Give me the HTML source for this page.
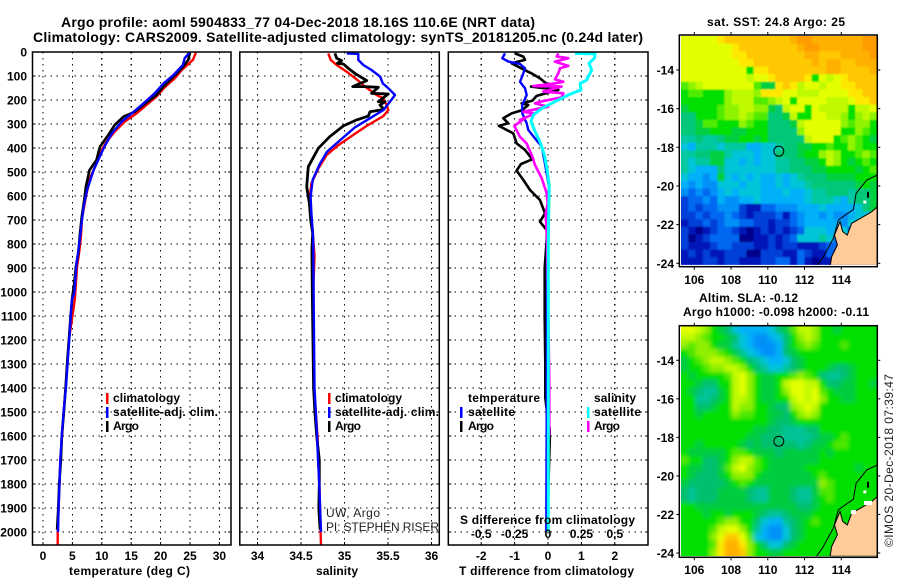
<!DOCTYPE html>
<html lang="en">
<head>
<meta charset="utf-8">
<title>Argo profile 5904833_77</title>
<style>
html,body{margin:0;padding:0;background:#fff;width:900px;height:580px;overflow:hidden}
svg{display:block}
text{font-family:"Liberation Sans",sans-serif;font-weight:bold;font-size:12px;fill:#000}
.t{font-size:14px}
.thin{font-weight:normal;fill:#222}
</style>
</head>
<body>
<svg id="chart" xmlns="http://www.w3.org/2000/svg" width="900" height="580" viewBox="0 0 900 580">
<rect x="0" y="0" width="900" height="580" fill="#fff"/>
<g id="layer"></g>
<text class="t" x="61" y="27" textLength="474" lengthAdjust="spacing">Argo profile: aoml 5904833_77 04-Dec-2018 18.16S 110.6E (NRT data)</text>
<text class="t" x="33" y="42" textLength="610" lengthAdjust="spacing">Climatology: CARS2009. Satellite-adjusted climatology: synTS_20181205.nc (0.24d later)</text>

<text x="69" y="575" textLength="121" lengthAdjust="spacing">temperature (deg C)</text>
<text x="316" y="575" textLength="42" lengthAdjust="spacing">salinity</text>
<text x="459" y="575" textLength="175" lengthAdjust="spacing">T difference from climatology</text>
<text x="460" y="524" textLength="175" lengthAdjust="spacing">S difference from climatology</text>

<g>
<rect x="106" y="393" width="2.5" height="11" fill="#ff0000"/>
<rect x="106" y="407" width="2.5" height="11" fill="#0000ff"/>
<rect x="106" y="421" width="2.5" height="11" fill="#000"/>
<text x="113" y="402" textLength="67" lengthAdjust="spacing">climatology</text>
<text x="113" y="416" textLength="105" lengthAdjust="spacing">satellite-adj. clim.</text>
<text x="113" y="430" textLength="26" lengthAdjust="spacing">Argo</text>
</g>
<g>
<rect x="328" y="393" width="2.5" height="11" fill="#ff0000"/>
<rect x="328" y="407" width="2.5" height="11" fill="#0000ff"/>
<rect x="328" y="421" width="2.5" height="11" fill="#000"/>
<text x="335" y="402" textLength="67" lengthAdjust="spacing">climatology</text>
<text x="335" y="416" textLength="104" lengthAdjust="spacing">satellite-adj. clim.</text>
<text x="335" y="430" textLength="26" lengthAdjust="spacing">Argo</text>
<text class="thin" x="326" y="517" textLength="54" lengthAdjust="spacing">UW, Argo</text>
<text class="thin" x="326" y="531" textLength="113" lengthAdjust="spacing">PI: STEPHEN RISER</text>
</g>
<g>
<text x="468" y="402" textLength="72" lengthAdjust="spacing">temperature</text>
<text x="594" y="402" textLength="42" lengthAdjust="spacing">salinity</text>
<rect x="460" y="407" width="2.5" height="11" fill="#0000ff"/>
<rect x="460" y="421" width="2.5" height="11" fill="#000"/>
<rect x="587" y="407" width="2.5" height="11" fill="#00ffff"/>
<rect x="587" y="421" width="2.5" height="11" fill="#ff00ff"/>
<text x="468" y="416" textLength="47" lengthAdjust="spacing">satellite</text>
<text x="468" y="430" textLength="26" lengthAdjust="spacing">Argo</text>
<text x="594" y="416" textLength="47" lengthAdjust="spacing">satellite</text>
<text x="594" y="430" textLength="26" lengthAdjust="spacing">Argo</text>
</g>

<text x="707" y="26" textLength="138" lengthAdjust="spacing">sat. SST: 24.8 Argo: 25</text>
<text x="699" y="302" textLength="99" lengthAdjust="spacing">Altim. SLA: -0.12</text>
<text x="683" y="316" textLength="186" lengthAdjust="spacing">Argo h1000: -0.098 h2000: -0.11</text>
<text class="thin" transform="translate(893,547) rotate(-90)" textLength="173" lengthAdjust="spacing">©IMOS 20-Dec-2018 07:39:47</text>
</svg>

<script>
// ---------- profile data (depth in dbar) ----------
var depthTicks = [0,100,200,300,400,500,600,700,800,900,1000,1100,1200,1300,1400,1500,1600,1700,1800,1900,2000];
var tempTicks = [0,5,10,15,20,25,30];
var salTicks = [34,34.5,35,35.5,36];
var salTickLabels = ['34','34.5','35','35.5','36'];
var tdiffTicks = [-2,-1,0,1,2];
var sdiffTicks = [-0.5,-0.25,0,0.25,0.5];
var sdiffTickLabels = ['-0.5','-0.25','0','0.25','0.5'];

var tempClimDepth = [3,33,75,110,147,186,221,256,290,332,374,408,464,526,603,700,756,825,894,964,1033,1200,1400,1500,1600,1700,1800,1900,2000,2054];
var tempClim = [26.0,25.5,23.6,22.4,20.7,19.3,17.6,15.9,13.9,12.2,10.8,10.0,9.1,8.0,7.3,6.6,6.5,6.2,5.8,5.6,5.4,4.4,3.85,3.5,3.25,2.95,2.8,2.65,2.5,2.5];
var tempArgoDepth = [3,33,68,117,144,179,211,249,269,304,346,394,450,492,561,617,686,756,839,894,964,1019,1100,1200,1300,1400,1500,1600,1700,1800,1900,1990];
var tempArgo = [25.0,24.7,23.6,21.6,20.5,19.3,17.6,15.6,13.7,12.2,11.1,9.7,9.1,7.9,7.3,7.0,6.6,6.3,6.0,5.6,5.3,5.0,4.7,4.4,4.1,3.85,3.55,3.2,3.05,2.75,2.6,2.4];
var tempSatDepth = [3,26,54,96,131,172,214,249,290,339,401,492,575,644,728,811,881,950,1006,1033,1200,1400,1500,1600,1700,1800,1900,2000];
var tempSat = [24.9,24.1,23.8,22.2,20.5,19.0,17.1,15.4,13.4,11.7,10.3,8.6,7.5,6.9,6.5,6.1,5.7,5.5,5.3,4.9,4.45,3.9,3.5,3.2,2.95,2.8,2.65,2.55];

var salClimDepth = [6,33,54,82,114,144,179,193,221,242,267,308,346,388,429,485,547,617,672,728,850,1000,1400,1500,1600,1700,1800,1900,2000,2054];
var salClim = [34.814,34.841,34.91,35.025,35.14,35.236,35.37,35.446,35.485,35.504,35.446,35.255,35.10,34.93,34.795,34.70,34.62,34.596,34.61,34.63,34.655,34.64,34.65,34.67,34.69,34.70,34.71,34.72,34.725,34.73];
var salArgoDepth = [6,26,36,47,50,68,89,119,144,144,147,172,175,207,207,221,239,249,267,283,308,353,401,478,561,631,700,756,820,1000,1400,1500,1600,1700,1800,1900,1990];
var salArgo = [34.89,34.91,34.967,34.918,34.987,35.044,35.12,35.255,35.094,35.236,35.389,35.312,35.504,35.389,35.466,35.408,35.454,35.293,35.274,35.14,34.987,34.83,34.70,34.584,34.565,34.596,34.611,34.634,34.625,34.63,34.645,34.66,34.68,34.71,34.71,34.705,34.72];
var salSatDepth = [6,8,33,54,75,103,131,151,179,207,242,272,314,367,415,471,533,603,672,776,1000,1400,1500,1600,1700,1800,1900,2000];
var salSat = [35.025,35.159,35.159,35.216,35.31,35.41,35.44,35.504,35.58,35.523,35.446,35.31,35.12,34.95,34.80,34.71,34.634,34.61,34.62,34.64,34.645,34.655,34.67,34.685,34.695,34.71,34.72,34.73];

var tdSatDepth = [6,26,40,50,68,89,124,151,179,221,256,297,325,360,394,450,506,561,631,672,783,1000,1500,2000];
var tdSat = [-1.287,-1.367,-1.188,-0.838,-0.689,-0.739,-0.838,-0.689,-0.639,-0.768,-0.768,-0.639,-0.589,-0.389,-0.19,-0.11,-0.04,0.03,0.01,-0.01,-0.03,-0.03,-0.04,-0.05];
var tdArgoDepth = [6,19,33,47,72,89,110,138,144,158,183,203,214,221,242,256,276,297,308,339,381,408,447,467,494,533,575,617,672,707,742,783,900,1000,1100,1300,1440,1500,1570,1620,2000];
var tdArgo = [-0.99,-0.74,-0.69,-1.09,-0.74,-0.49,-0.24,0.01,-0.51,0.31,-0.34,-0.47,-0.79,-0.59,-0.77,-1.09,-1.34,-1.19,-1.47,-1.04,-0.94,-0.69,-0.47,-0.81,-0.94,-0.74,-0.54,-0.24,-0.09,-0.24,-0.04,-0.04,-0.1,-0.1,-0.1,-0.08,-0.08,-0.03,0.05,0.05,-0.03];
var sdSatDepth = [6,8,26,47,75,117,131,158,179,207,235,262,290,325,374,429,506,561,631,783,1300,2000];
var sdSat = [0.202,0.352,0.347,0.307,0.327,0.289,0.24,0.247,0.152,0.052,-0.047,-0.11,-0.127,-0.102,-0.06,-0.027,-0.002,0.01,0.007,0.002,0.002,0.002];
var sdArgoDepth = [6,19,26,40,58,68,89,114,124,131,142,144,165,172,189,207,214,228,249,256,283,276,308,353,381,436,471,526,589,631,672,783,1380,1600];
var sdArgo = [0.077,0.065,0.152,0.052,0.152,0.09,0.077,0.052,0.115,0.052,-0.11,0.102,-0.035,0.115,0.102,-0.06,-0.097,0.002,-0.185,-0.097,-0.21,-0.172,-0.252,-0.21,-0.16,-0.117,-0.097,-0.047,-0.01,-0.002,-0.017,-0.007,0.01,0.01];

// ---------- map data: one level code per cell, 27 columns by 30 rows ----------
var levelCodes = '0123456789abcdefghi';
var sstColors = ['#00008c','#0018b8','#0040d8','#0068f0','#0090f8','#00b0f8','#00c4d8','#00c8a0','#00c878','#00d040','#00e000','#50ec00','#90f400','#c0fa00','#e4ff00','#ffe800','#ffc800','#ffb000','#ff9c00'];
var slaColors = ['#00008c','#0018b8','#0040d8','#0068f0','#0090f8','#00b0f8','#00c4d8','#00c498','#00c070','#00cc40','#00e000','#50e800','#90f000','#c0fa00','#e4ff00','#ffe800','#ffc800','#ffb000','#ff9c00'];
var sstRows = [
'eeeeefggggggggghiihhhhhhhii',
'eeeeeeefgggggggghiihhhhhhii',
'eeeeeeeffgggggggghhggghhhhi',
'eeeeeeeeffgggggggghghhgghhh',
'eeeeeeeeeaffgggggggghhggggh',
'eeeeeeeeedeefggggfaedefgggg',
'bcdeeeeeeeb99fgfdeedeeffggg',
'abbaaacdddcfffeedddeeeeffgg',
'aaaaaacdddbbcdeaeeeedddeffg',
'9aaaabccddcc98deeaeddddadde',
'88aaabccdcbb889daaeeddcacdc',
'889bbaaacbaa8889deeeeecbcca',
'8899aaa99aaa8888ceeeeeaacba',
'77877899aa9a88888deeeabcba9',
'657776777556678899aabaacbaa',
'7788 99 7 6665 66 888 9aa cdc aabcb',
'7677 99 66565 6677 889 9adc a9 aba',
'7 655 5 8 66666 667 7888 99aaa a9ab',
'6 5545 9 65656 55656 78 889999 aaa',
'5 4544 6 66566 55656 67 888888 9a9',
'4 3434 5 65666 55565 56 778887 889',
'23 343 544 556 55555 56 7776 57 889',
'2 323 3444 211 3344 455 565 555 689',
'2 2323 343 212 223 1 34 5545 445 667',
'1 2232 344 332 2122 345 5555 466 55',
'2 101 2332 101 2121 23 6665 562222',
'2 01 233 33 001 1212 3 6667 6 332222',
'21 112 332 221 12122 1112 3322222',
'1 212 11 222 00 222 11 3 21 132 22222',
'11 122 1221 11 223 31 310 11222222'
];
var slaRows = [
'eedca986 5555 689b ddc a a9aaaaa',
'ddcbaa98 654456 8a cdc aaaaaaaa',
'cbcca997 654445 8a bcb aaa b aaaa',
'abcccba9 765445 89a aaaaaaaaaaaa',
'9abcddcb a87655 689 aaaaaaaaaaaa',
'9aabccddca 876678 9a aa 988 9aaaa',
'a9a aaa b de c a99 a a bcb a 877 89aaa',
'aa 988 aa de c a99 a d eed d a 88 99aa9',
'a9 877 9 a de c a9 9a c eede b a999aaa',
'aa 778 9 a ddc a9 9aa dede c aa99aaa',
'aa 889 aa dcc aa 988 cded a aaaaaaa',
'aa9aaaa cb b aa 998 acdc a aaaaaaa',
'aaaaaaaaaaaa 988 9aaa aaaaaaaa',
'aaaaaaaaaa 99 8877 788 aaaaaaaa',
'aaaaaaaaa9 988 877 778 99 a b aaaa',
'aa9aaaaa9 8988888 78 99a bba aaa',
'a 99999 abb a 999899999 a9aaaaaa',
'b aa 88 9 a cdd b a9999999 aaaaaaaa',
'a 99 88 9 b dec b a99999aa aaaaa9aa',
'a9 888 9 a ccc a 9999999 a b aaaaaaa',
'9888889 aba 999 999999 cb aaaaaa',
'87 888 9999 877 999 8 77 9 bb aaaaaa',
'87 888 9999 877 999 8 77 9 ab aaaaaa',
'aa99999999999999889aaaaaaaa',
'aaa9aa9aaa 98778 999 aaaaaaaaa',
'aaaaa b cc aa 86557 89 a b aaaaaaaa',
'aaaa b dee c a 75446 8 9 aaaaaaaaaa',
'aaaa c egg e b 65446 8 9 aaaaaaaaaa',
'aaaa b f hh f c a 8668 9 aaaaaaaaaaaa',
'aaaa c f hh g c aa9 9 aaaaaaaaaaaaa'
];
var mapLonTicks = [106,108,110,112,114];
var mapLatTicks = [-14,-16,-18,-20,-22,-24];
var landLon = [115.97,113.39,113.48,113.79,113.63,113.93,114.08,114.33,114.57,115.2,115.66,115.97];
var landLat = [-24.17,-24.17,-23.66,-23.05,-22.54,-21.85,-22.36,-22.54,-21.93,-21.59,-21.33,-21.07];
var shelfLon = [112.66,113.03,113.57,113.84,114.66,114.81,115.39,115.97];
var shelfLat = [-24.17,-23.66,-22.71,-21.76,-21.21,-20.38,-19.69,-19.43];
var gapLon = [115.24,114.53];
var gapLat = [-21.30,-21.77];
var floatLon = 110.6;
var floatLat = -18.2;

// ---------- drawing ----------
var NS = 'http://www.w3.org/2000/svg';
var layer = document.getElementById('layer');
function make(tag, attrs, parent) {
  var n = document.createElementNS(NS, tag);
  for (var k in attrs) n.setAttribute(k, attrs[k]);
  parent.appendChild(n);
  return n;
}
function depthY(d) { return 52 + 0.24 * d; }
function tempX(v) { return 43 + 5.88 * v; }
function salX(v) { return 257.5 + 87 * (v - 34); }
function tdiffX(v) { return 548 + 33.4 * v; }
function sdiffX(v) { return 548 + 133.6 * v; }
var panelTop = 52, panelBottom = 545;

function drawPanel(name, left, right, xTicks, xFn, xLabels) {
  var g = make('g', {}, layer);
  
  
  depthTicks.forEach(function (d) {
    var y = depthY(d);
    if (d > 0) {
      var gl = make('line', {x1: left, x2: right, y1: y, y2: y, stroke: '#000', 'stroke-width': 1.2, 'stroke-dasharray': '1.5 4.5', 'shape-rendering': 'crispEdges'}, g);
      
      
      var tl = make('line', {x1: left, x2: left + 3, y1: y, y2: y, stroke: '#000', 'stroke-width': 1}, g);
      
      
      var tr = make('line', {x1: right - 3, x2: right, y1: y, y2: y, stroke: '#000', 'stroke-width': 1}, g);
      
      
    }
  });
  xTicks.forEach(function (v, i) {
    var x = xFn(v);
    var vl = make('line', {x1: x, x2: x, y1: panelTop, y2: panelBottom, stroke: '#000', 'stroke-width': 1.2, 'stroke-dasharray': '1.5 4.5', 'shape-rendering': 'crispEdges'}, g);
    
    
    var tk = make('line', {x1: x, x2: x, y1: panelBottom - 3, y2: panelBottom, stroke: '#000', 'stroke-width': 1}, g);
    
    
    var lb = make('text', {x: x, y: 560, 'text-anchor': 'middle'}, g);
    
    
    lb.textContent = xLabels[i];
  });
  return g;
}
function drawFrame(g, left, right) {
  var f = make('rect', {x: left, y: panelTop, width: right - left, height: panelBottom - panelTop, fill: 'none', stroke: '#000', 'stroke-width': 1.5}, g);
  
  
}
function drawLine(g, name, depths, values, xFn, color, width) {
  var pts = depths.map(function (d, i) { return xFn(values[i]).toFixed(1) + ',' + depthY(d).toFixed(1); }).join(' ');
  var p = make('polyline', {points: pts, fill: 'none', stroke: color, 'stroke-width': width, 'stroke-linejoin': 'round'}, g);
  
  
}

var pT = drawPanel('temperature', 32.5, 231, tempTicks, tempX, tempTicks.map(String));
drawLine(pT, 'temperature-climatology-line', tempClimDepth, tempClim, tempX, '#ff0000', 2.4);
drawLine(pT, 'temperature-argo-line', tempArgoDepth, tempArgo, tempX, '#000', 2.6);
drawLine(pT, 'temperature-satellite-line', tempSatDepth, tempSat, tempX, '#0000ff', 2.4);
drawFrame(pT, 32.5, 231);
depthTicks.forEach(function (d) {
  var lb = make('text', {x: 27, y: depthY(d) + 4.5, 'text-anchor': 'end'}, pT);
  
  
  lb.textContent = d;
});

var pS = drawPanel('salinity', 239.8, 439.3, salTicks, salX, salTickLabels);
drawLine(pS, 'salinity-climatology-line', salClimDepth, salClim, salX, '#ff0000', 2.4);
drawLine(pS, 'salinity-argo-line', salArgoDepth, salArgo, salX, '#000', 2.8);
drawLine(pS, 'salinity-satellite-line', salSatDepth, salSat, salX, '#0000ff', 2.4);
drawFrame(pS, 239.8, 439.3);

var pD = drawPanel('difference', 448.3, 648, tdiffTicks, tdiffX, tdiffTicks.map(String));
drawLine(pD, 't-diff-argo-line', tdArgoDepth, tdArgo, tdiffX, '#000', 2.6);
drawLine(pD, 't-diff-satellite-line', tdSatDepth, tdSat, tdiffX, '#0000ff', 2.4);
drawLine(pD, 's-diff-argo-line', sdArgoDepth, sdArgo, sdiffX, '#ff00ff', 2.6);
drawLine(pD, 's-diff-satellite-line', sdSatDepth, sdSat, sdiffX, '#00ffff', 3);
drawFrame(pD, 448.3, 648);
sdiffTicks.forEach(function (v, i) {
  var lb = make('text', {x: sdiffX(v), y: 538, 'text-anchor': 'middle'}, pD);
  
  
  lb.textContent = sdiffTickLabels[i];
});

function drawMap(name, rows, colors, frameTop, frameBottom, latOrigin, latScale, imgTop, cellH, lonLabelY, clipId, blur, showGaps) {
  var left = 679.3, right = 877.3;
  function lonX(lon) { return 694.3 + 18.37 * (lon - 106); }
  function latY(lat) { return latOrigin + latScale * (-14 - lat); }
  var g = make('g', {}, layer);
  
  
  var defs = make('defs', {}, g);
  var cp = make('clipPath', {id: clipId}, defs);
  make('rect', {x: 681, y: imgTop, width: 196, height: cellH * 30}, cp);
  var flt = make('filter', {id: clipId + '-blur', filterUnits: 'userSpaceOnUse', x: 660, y: imgTop - 30, width: 240, height: cellH * 30 + 60}, defs);
  make('feGaussianBlur', {stdDeviation: blur}, flt);
  var cellW = 196 / 27;
  var clipped = make('g', {'clip-path': 'url(#' + clipId + ')'}, g);
  var cells = make('g', {filter: 'url(#' + clipId + '-blur)'}, clipped);
  
  
  rows.forEach(function (row, j) {
    var codes = row.replace(/ /g, '');
    for (var i = 0; i < 27; i++) {
      var code = codes.charAt(Math.min(i, codes.length - 1));
      var x0 = 681 + i * cellW, y0 = imgTop + j * cellH, w = cellW + 0.4, h = cellH + 0.4;
      if (i === 0) { x0 -= 15; w += 15; }
      if (i === 26) { w += 15; }
      if (j === 0) { y0 -= 15; h += 15; }
      if (j === 29) { h += 15; }
      var r = make('rect', {x: x0.toFixed(2), y: y0.toFixed(2), width: w.toFixed(2), height: h.toFixed(2), fill: colors[levelCodes.indexOf(code)]}, cells);
      
      
    }
  });
  var land = make('polygon', {points: landLon.map(function (v, i) { return lonX(v).toFixed(1) + ',' + latY(landLat[i]).toFixed(1); }).join(' '), fill: '#ffcc99', stroke: '#000', 'stroke-width': 1}, clipped);
  
  
  var shelf = make('polyline', {points: shelfLon.map(function (v, i) { return lonX(v).toFixed(1) + ',' + latY(shelfLat[i]).toFixed(1); }).join(' '), fill: 'none', stroke: '#000', 'stroke-width': 1}, clipped);
  
  
  var isle = make('rect', {x: lonX(115.4), y: latY(-20.3), width: 2, height: 6, fill: '#000'}, clipped);
  
  
  var isle2 = make('rect', {x: lonX(115.2), y: latY(-20.75), width: 3, height: 3, fill: '#fff'}, clipped);
  
  
  if (showGaps) {
    gapLon.forEach(function (lon, i) {
      var w = make('rect', {x: lonX(lon), y: latY(gapLat[i]), width: i === 0 ? 8 : 5, height: 4, fill: '#fff'}, clipped);
      
      
    });
  }
  var c = make('circle', {cx: lonX(floatLon), cy: latY(floatLat), r: 5, fill: 'none', stroke: '#000', 'stroke-width': 1}, g);
  
  
  var f = make('rect', {x: left, y: frameTop, width: right - left, height: frameBottom - frameTop, fill: 'none', stroke: '#000', 'stroke-width': 1.5}, g);
  
  
  mapLonTicks.forEach(function (lon) {
    var x = lonX(lon);
    var t1 = make('line', {x1: x, x2: x, y1: frameTop - 3, y2: frameTop, stroke: '#000'}, g);
    
    
    var t2 = make('line', {x1: x, x2: x, y1: frameBottom, y2: frameBottom + 3, stroke: '#000'}, g);
    
    
    var lb = make('text', {x: x, y: lonLabelY, 'text-anchor': 'middle'}, g);
    
    
    lb.textContent = lon;
  });
  mapLatTicks.forEach(function (lat) {
    var y = latY(lat);
    var t1 = make('line', {x1: left - 3, x2: left, y1: y, y2: y, stroke: '#000'}, g);
    
    
    var t2 = make('line', {x1: right, x2: right + 3, y1: y, y2: y, stroke: '#000'}, g);
    
    
    var lb = make('text', {x: 674, y: y + 4.5, 'text-anchor': 'end'}, g);
    
    
    lb.textContent = lat;
  });
}
drawMap('sst', sstRows, sstColors, 35, 266.7, 70, 19.33, 36, 7.63, 284, 'clip-sst', 0.9, false);
drawMap('sla', slaRows, slaColors, 325.7, 557.3, 360.3, 19.27, 326, 7.67, 574, 'clip-sla', 2.2, true);
</script>
</body>
</html>
